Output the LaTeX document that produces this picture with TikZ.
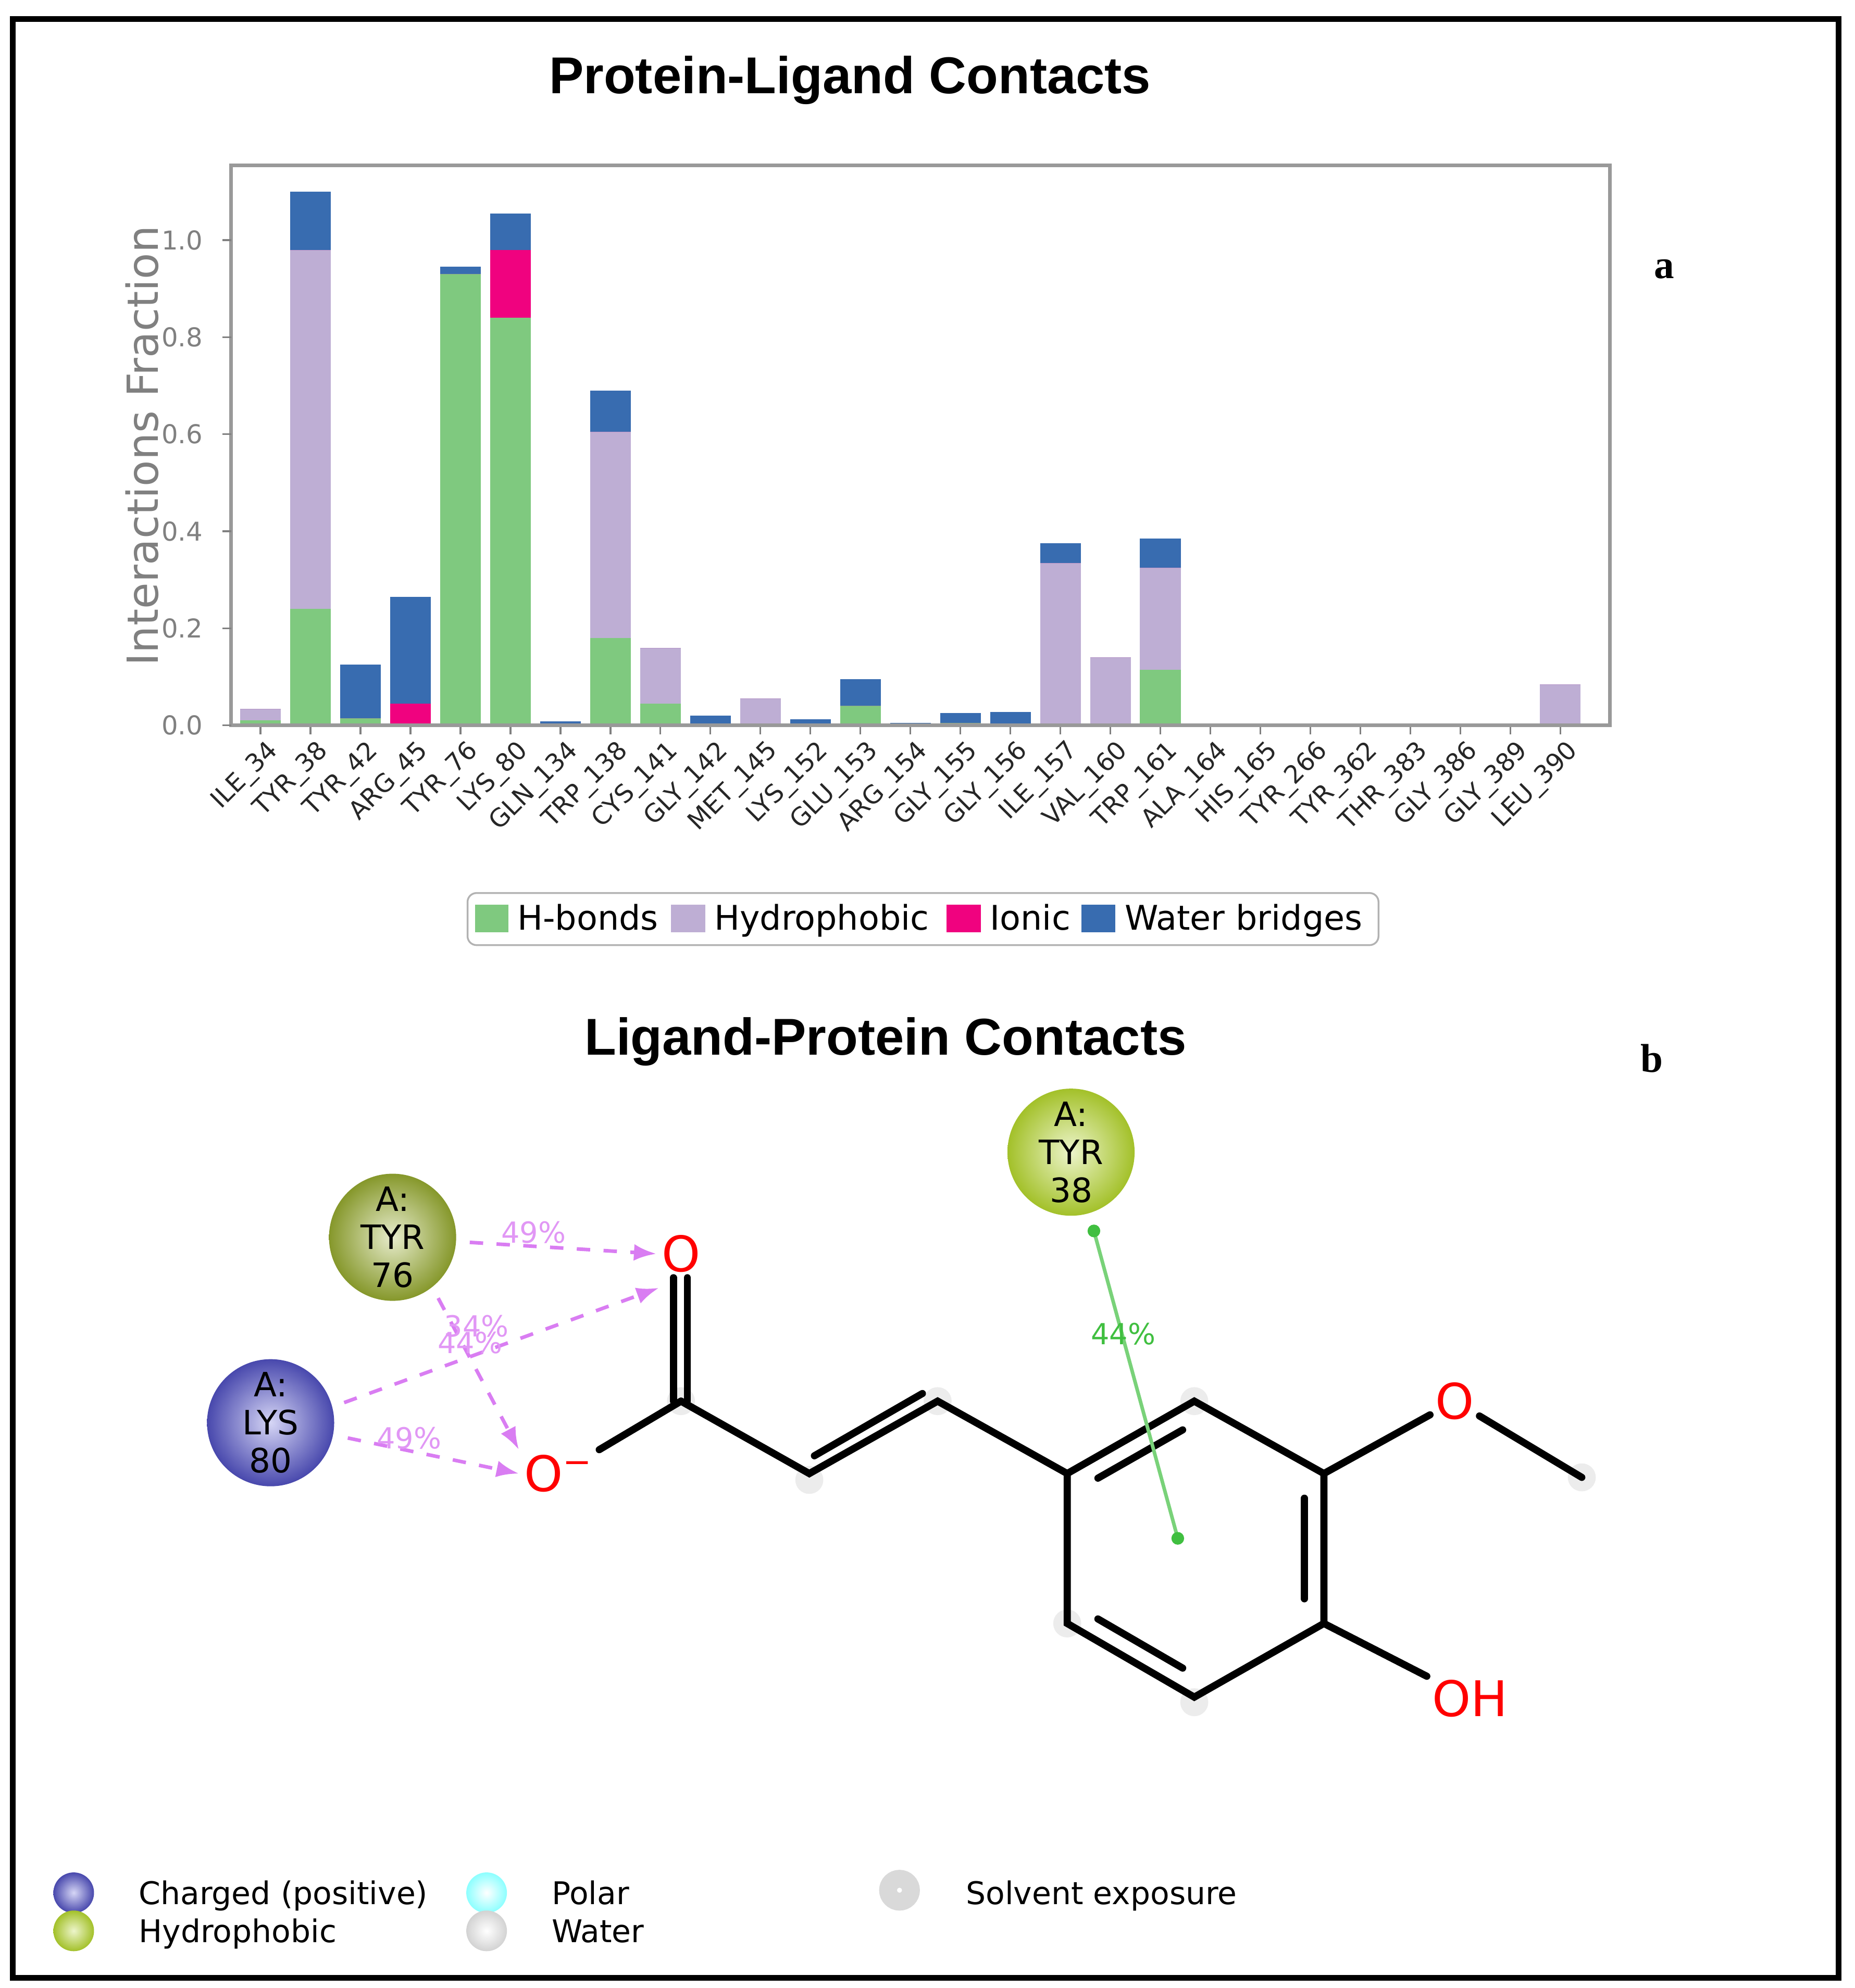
\documentclass[tikz,border=0pt]{standalone}
\usepackage{fontspec}
\setmainfont{DejaVu Sans}
\newfontfamily\titlefont{Liberation Sans}
\newfontfamily\serifb{Liberation Serif}
\usetikzlibrary{calc,arrows.meta}
\definecolor{hb}{HTML}{7FC97F}
\definecolor{hy}{HTML}{BEAED4}
\definecolor{io}{HTML}{F0027F}
\definecolor{wb}{HTML}{386CB0}
\definecolor{mag}{HTML}{D97DF2}
\definecolor{tyra}{HTML}{9DB232}
\definecolor{tyrb}{HTML}{B5D62E}
\definecolor{lysc}{HTML}{5A5AD8}
\tikzset{
 bond/.style={line width=1.6pt,black,line cap=round},
 atomO/.style={text=red,font=\fontsize{11}{11}\selectfont,inner sep=1pt},
 res/.style={circle,minimum size=1cm,align=center,font=\fontsize{7.5}{8.5}\selectfont,inner sep=0pt},
 hbarrow/.style={dashed,mag,line width=0.8pt,-{Latex[length=5pt]}},
 pct/.style={text=mag!80,font=\fontsize{6.5}{7}\selectfont},
 solv/.style={circle,fill=gray!15,minimum size=0.22cm,inner sep=0pt},
 tick/.style={font=\fontsize{5.6}{6}\selectfont,text=black!85},
 lgd/.style={anchor=base west,font=\fontsize{7.6}{8}\selectfont,inner sep=1pt},
 lg/.style={anchor=base west,font=\fontsize{7}{8}\selectfont,inner sep=1pt},
}
\begin{document}
\begin{tikzpicture}[x=0.01cm,y=-0.01cm]
\useasboundingbox (0,0) rectangle (1460,1565);
\fill[white] (0,0) rectangle (1460,1565);
\draw[line width=1.3pt] (10,15) rectangle (1447,1557);
\node[font=\titlefont\bfseries\fontsize{11.6}{12}\selectfont] (t1) at (669,63) {Protein-Ligand Contacts};
\node[font=\serifb\bfseries\fontsize{9}{9}\selectfont] (la) at (1310,212) {a};
\node[font=\serifb\bfseries\fontsize{9}{9}\selectfont] (lb) at (1300,833) {b};
% bars
\foreach \i/\n/\a/\b/\c/\d in {0/ILE\_34/0.01/0.034/0.034/0.034,1/TYR\_38/0.24/0.98/0.98/1.10,2/TYR\_42/0.015/0.015/0.015/0.125,3/ARG\_45/0/0/0.045/0.265,4/TYR\_76/0.93/0.93/0.93/0.945,5/LYS\_80/0.84/0.84/0.98/1.055,6/GLN\_134/0/0/0/0.008,7/TRP\_138/0.18/0.605/0.605/0.69,8/CYS\_141/0.045/0.16/0.16/0.16,9/GLY\_142/0/0/0/0.02,10/MET\_145/0/0.055/0.055/0.055,11/LYS\_152/0/0/0/0.013,12/GLU\_153/0.04/0.04/0.04/0.095,13/ARG\_154/0/0/0/0.005,14/GLY\_155/0.005/0.005/0.005/0.025,15/GLY\_156/0/0/0/0.028,16/ILE\_157/0/0.335/0.335/0.375,17/VAL\_160/0/0.14/0.14/0.14,18/TRP\_161/0.115/0.325/0.325/0.385,19/ALA\_164/0/0/0/0,20/HIS\_165/0/0/0/0.004,21/TYR\_266/0/0/0/0,22/TYR\_362/0/0/0/0,23/THR\_383/0/0/0/0.003,24/GLY\_386/0/0/0/0.003,25/GLY\_389/0/0/0/0.003,26/LEU\_390/0/0.085/0.085/0.085}{
 \pgfmathsetmacro\xc{205+39.35*\i}
 \fill[hb] (\xc-16,571) rectangle (\xc+16,{571-382*\a});
 \fill[hy] (\xc-16,{571-382*\a}) rectangle (\xc+16,{571-382*\b});
 \fill[io] (\xc-16,{571-382*\b}) rectangle (\xc+16,{571-382*\c});
 \fill[wb] (\xc-16,{571-382*\c}) rectangle (\xc+16,{571-382*\d});
 \draw[gray] (\xc,571) -- (\xc,578);
 \node[tick,rotate=45,anchor=north east,inner sep=0.5pt] (x\i) at (\xc+4,578) {\n};
}
\draw[gray!80,line width=0.8pt] (182,130) rectangle (1267,571);
\foreach \v in {0.0,0.2,0.4,0.6,0.8,1.0}{
 \draw[gray] (182,{571-382*\v}) -- (175,{571-382*\v});
 \node[font=\fontsize{5.8}{6}\selectfont,anchor=east,text=gray] at (172,{571-382*\v}) {\v};
}
\node[rotate=90,text=gray,font=\fontsize{9.6}{10}\selectfont] (yl) at (112,351) {Interactions Fraction};
% legend
\draw[gray!60,rounded corners=2pt,fill=white] (368,703) rectangle (1085,744);
\fill[hb] (374,712) rectangle (400,734);
\node[lgd] at (403,732) {H-bonds};
\fill[hy] (528,712) rectangle (555,734);
\node[lgd] at (558,732) {Hydrophobic};
\fill[io] (745,712) rectangle (772,734);
\node[lgd] at (775,732) {Ionic};
\fill[wb] (851,712) rectangle (878,734);
\node[lgd] at (881,732) {Water bridges};
% part b
\node[font=\titlefont\bfseries\fontsize{11.6}{12}\selectfont] (t2) at (697,820) {Ligand-Protein Contacts};
\foreach \p in {(536,1103),(637,1165),(738,1103),(940,1103),(840,1278),(940,1340),(1245,1163)} \node[solv] at \p {};
\coordinate (Cc) at (536,1103);
\coordinate (Ca) at (637,1160);
\coordinate (Cb) at (738,1103);
\coordinate (R1) at (840,1160);
\coordinate (R2) at (940,1103);
\coordinate (R3) at (1042,1160);
\coordinate (R4) at (1042,1278);
\coordinate (R5) at (940,1336);
\coordinate (R6) at (840,1278);
\coordinate (ctr) at (940,1219);
\coordinate (Me) at (1245,1163);
\node[atomO] (O1) at (536,987) {O};
\node[atomO] (O2) at (440,1160) {O\textsuperscript{−}};
\node[atomO] (O3) at (1145,1103) {O};
\node[atomO] (OH) at (1157,1337) {OH};
\draw[bond] ($(Cc)+(-6,0)$) -- ($(O1.south)+(-6,0)$);
\draw[bond] ($(Cc)+(5,0)$) -- ($(O1.south)+(5,0)$);
\draw[bond] (Cc) -- (O2);
\draw[bond] (Cc) -- (Ca) -- (Cb) -- (R1);
\draw[bond] (R1) -- (R2) -- (R3) -- (R4) -- (R5) -- (R6) -- cycle;
\draw[bond] ($(Ca)+(4,-14)$) -- ($(Cb)+(-12,-6)$);
\draw[bond] (R3) -- (O3) -- (Me);
\draw[bond] (R4) -- (OH);
\draw[bond,shorten <=3pt,shorten >=3pt] ($(R1)!0.15!(ctr)$) -- ($(R2)!0.15!(ctr)$);
\draw[bond,shorten <=3pt,shorten >=3pt] ($(R3)!0.15!(ctr)$) -- ($(R4)!0.15!(ctr)$);
\draw[bond,shorten <=3pt,shorten >=3pt] ($(R5)!0.15!(ctr)$) -- ($(R6)!0.15!(ctr)$);
% residues
\node[res,inner color=tyra!25!white,outer color=tyra!85!black] (T76) at (309,974) {A:\\TYR\\76};
\node[res,inner color=lysc!25!white,outer color=lysc!80!black] (K80) at (213,1120) {A:\\LYS\\80};
\node[res,inner color=tyrb!25!white,outer color=tyrb!90!black] (T38) at (843,907) {A:\\TYR\\38};
\draw[hbarrow] (T76.east) ++(10,4) coordinate (s1) -- (O1.west);
\draw[hbarrow] (K80.north east) ++(22,20) coordinate (s2) -- ($(O1.south west)+(2,8)$);
\draw[hbarrow] (T76.south east) ++(0,12) coordinate (s3) -- (O2.north west);
\draw[hbarrow] (K80.east) ++(10,12) coordinate (s4) -- (O2.west);
\node[pct] at (420,970) {49\%};
\node[pct] at (375,1044) {34\%};
\node[pct] at (370,1057) {44\%};
\node[pct] at (322,1132) {49\%};
\coordinate (g1) at (861,969);
\coordinate (g2) at (927,1211);
\draw[green!50!gray!70,line width=0.8pt] (g1) -- (g2);
\fill[green!50!gray] (g1) circle (5) (g2) circle (5);
\node[text=green!50!gray,font=\fontsize{6.5}{7}\selectfont] at (884,1050) {44\%};
% bottom legend
\shade[inner color=lysc!25!white,outer color=lysc!80!black] (58,1490) circle (16);
\shade[inner color=tyrb!25!white,outer color=tyrb!90!black] (58,1520) circle (16);
\shade[inner color=white,outer color=cyan!45] (383,1490) circle (16);
\shade[inner color=white,outer color=gray!35] (383,1520) circle (16);
\draw[gray!30,line width=4pt] (708,1488) circle (9);
\node[lg] at (105,1499) {Charged (positive)};
\node[lg] at (105,1529) {Hydrophobic};
\node[lg] at (430,1499) {Polar};
\node[lg] at (430,1529) {Water};
\node[lg] at (756,1499) {Solvent exposure};
\end{tikzpicture}
\end{document}
